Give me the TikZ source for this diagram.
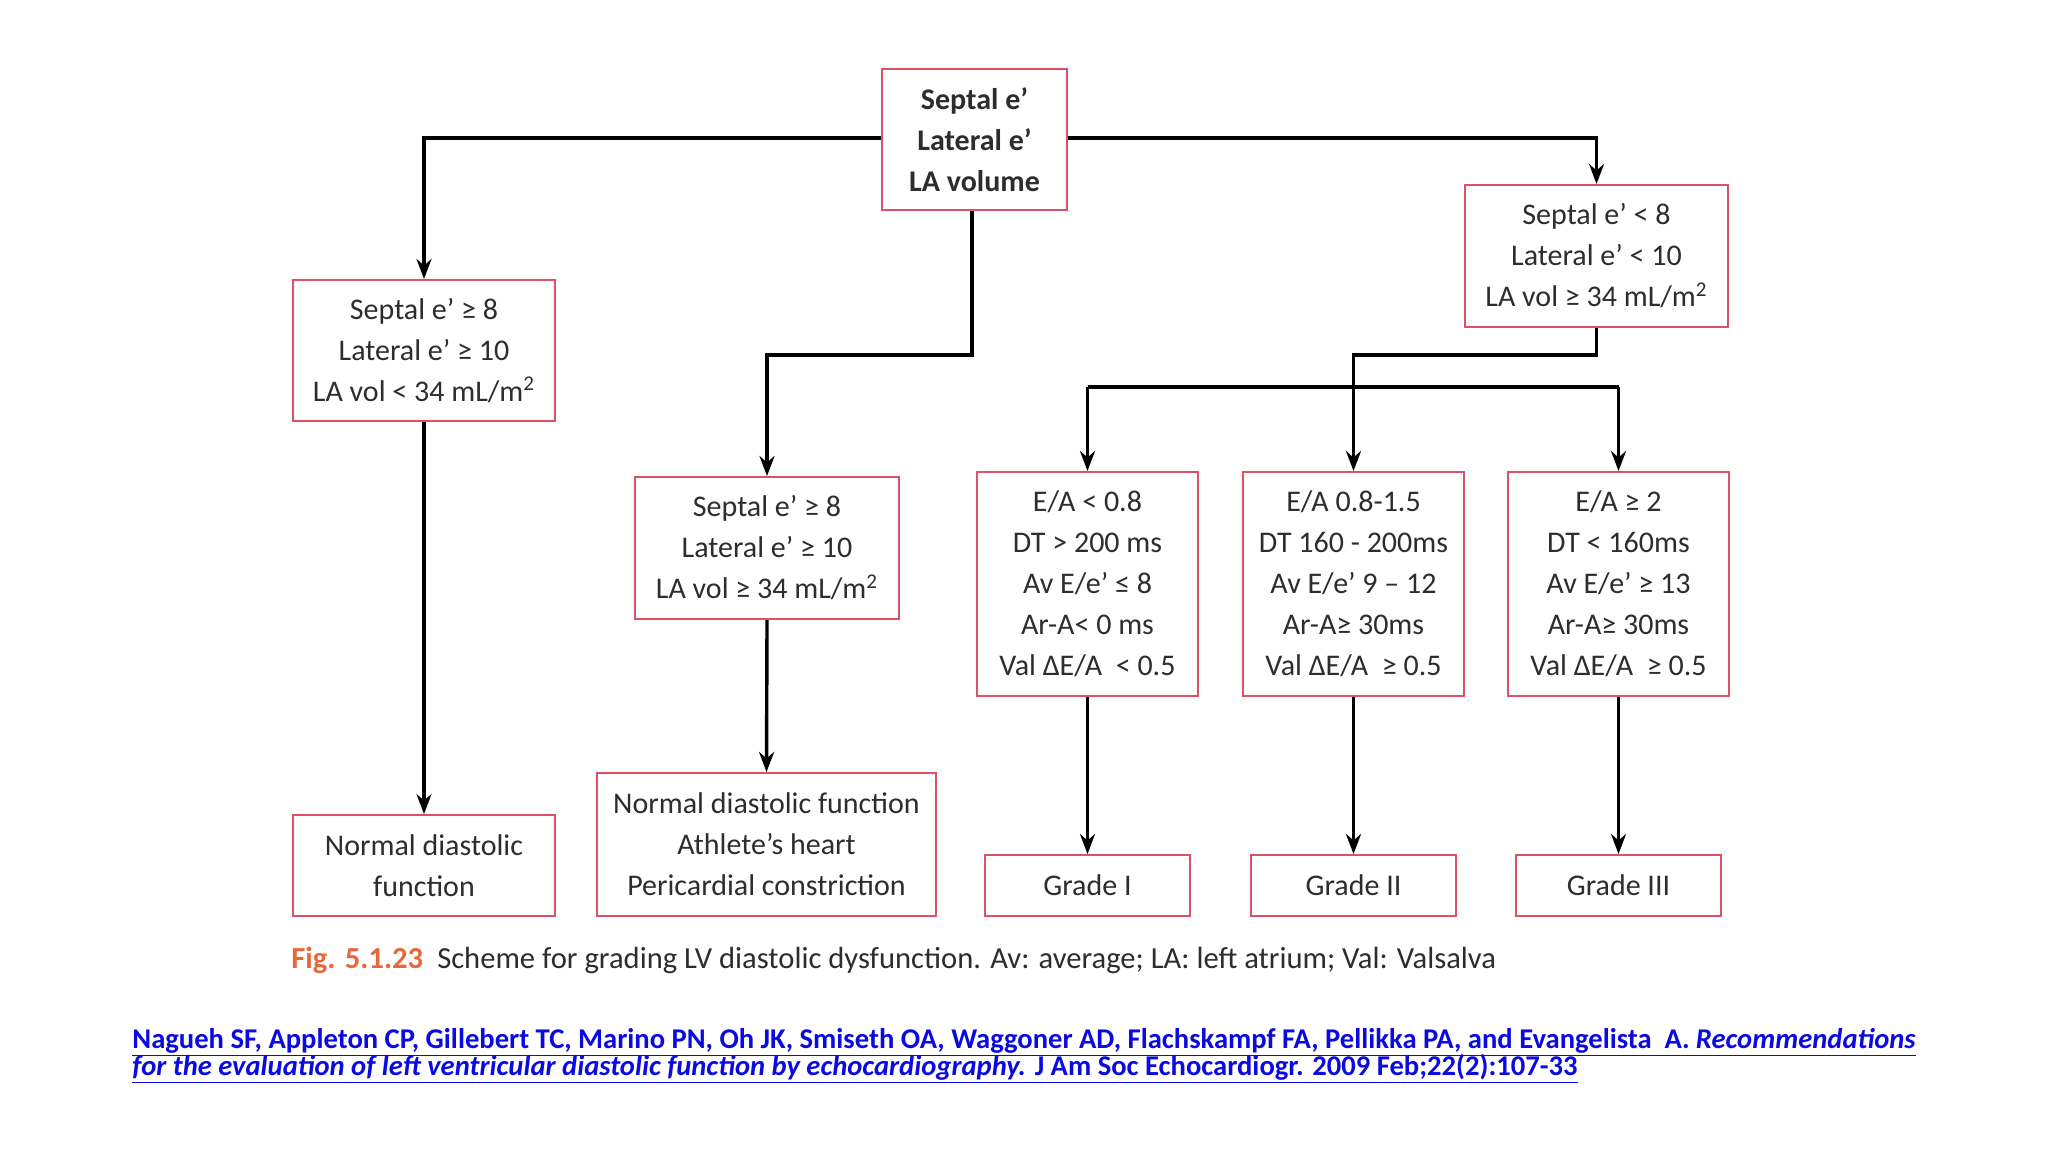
\documentclass[tikz,border=0pt]{standalone}
\usepackage{fontspec}
\setmainfont{Carlito}
\usetikzlibrary{arrows.meta}
\definecolor{boxred}{RGB}{222,80,100}
\definecolor{txt}{RGB}{45,45,45}
\definecolor{figor}{RGB}{230,105,60}
\definecolor{linkblue}{RGB}{10,10,225}
\begin{document}
\begin{tikzpicture}[x=0.5pt,y=-0.5pt,
  box/.style={draw=boxred, line width=1pt, fill=white, align=center, inner sep=0pt, text=txt, font=\fontsize{15}{20.5}\selectfont},
  arr/.style={line width=1.7pt, -{Stealth[length=10pt,width=7.5pt]}},
  ln/.style={line width=1.7pt}]
\useasboundingbox (0,0) rectangle (2048,1152);
\fill[white] (0,0) rectangle (2048,1152);

\node[box, minimum width=92.5pt, minimum height=70.5pt] (T) at (974.5,139.5) {\bfseries Septal e’\\ \bfseries Lateral e’\\ \bfseries LA volume};
\node[box, minimum width=131pt, minimum height=70.5pt] (A) at (424,350.5) {Septal e’ ≥ 8\\ Lateral e’ ≥ 10\\ LA vol < 34 mL/m\textsuperscript{2}};
\node[box, minimum width=131.5pt, minimum height=71pt] (B) at (1596.5,256) {Septal e’ < 8\\ Lateral e’ < 10\\ LA vol ≥ 34 mL/m\textsuperscript{2}};
\node[box, minimum width=132pt, minimum height=71pt] (C) at (767,548) {Septal e’ ≥ 8\\ Lateral e’ ≥ 10\\ LA vol ≥ 34 mL/m\textsuperscript{2}};
\node[box, minimum width=110.5pt, minimum height=112pt] (E1) at (1087.5,584) {E/A < 0.8\\ DT > 200 ms\\ Av E/e’ ≤ 8\\ Ar-A< 0 ms\\ Val ΔE/A \ < 0.5};
\node[box, minimum width=110.5pt, minimum height=112pt] (E2) at (1353.5,584) {E/A 0.8-1.5\\ DT 160 - 200ms\\ Av E/e’ 9 – 12\\ Ar-A≥ 30ms\\ Val ΔE/A \ ≥ 0.5};
\node[box, minimum width=110.5pt, minimum height=112pt] (E3) at (1618.5,584) {E/A ≥ 2\\ DT < 160ms\\ Av E/e’ ≥ 13\\ Ar-A≥ 30ms\\ Val ΔE/A \ ≥ 0.5};
\node[box, minimum width=131pt, minimum height=50.5pt] (N) at (424,865.5) {Normal diastolic\\ function};
\node[box, minimum width=169.5pt, minimum height=71.5pt] (NDF) at (766.5,844.5) {Normal diastolic function\\ Athlete’s heart\\ Pericardial constriction};
\node[box, minimum width=102.5pt, minimum height=30.5pt] (G1) at (1087.5,885.5) {Grade I};
\node[box, minimum width=102.5pt, minimum height=30.5pt] (G2) at (1353.5,885.5) {Grade II};
\node[box, minimum width=102.5pt, minimum height=30.5pt] (G3) at (1618.5,885.5) {Grade III};

\coordinate (jl) at (424,138);
\coordinate (jr) at (1596.5,138);
\coordinate (m1) at (972,355);
\coordinate (m2) at (767,355);
\coordinate (r1) at (1596.5,355);
\coordinate (r2) at (1353.5,355);
\coordinate (b1) at (1087.5,387);
\coordinate (b3) at (1618.5,387);

\draw[arr] (T.west |- jl) -- (jl) -- (A.north);
\draw[arr] (T.east |- jr) -- (jr) -- (B.north);
\draw[arr] (T.south -| m1) -- (m1) -- (m2) -- (C.north);
\draw[arr] (B.south) -- (r1) -- (r2) -- (E2.north);
\draw[ln] (b1) -- (b3);
\draw[arr] (b1) -- (E1.north);
\draw[arr] (b3) -- (E3.north);
\draw[arr] (A.south) -- (N.north);
\draw[arr] (C.south) -- (NDF.north);
\draw[arr] (E1.south) -- (G1.north);
\draw[arr] (E2.south) -- (G2.north);
\draw[arr] (E3.south) -- (G3.north);

\node[anchor=base west, inner sep=0pt, font=\fontsize{15.3}{17}\selectfont] (cap) at (291,968) {\textcolor{figor}{\bfseries Fig. 5.1.23}\hspace{7pt}\textcolor{txt}{Scheme for grading LV diastolic dysfunction. Av: average; LA: left atrium; Val: Valsalva}};

\node[anchor=base west, inner sep=0pt, text=linkblue, font=\fontsize{14.3}{13.5}\selectfont\bfseries] (cite1) at (132,1048) {\underline{Nagueh SF, Appleton CP, Gillebert TC, Marino PN, Oh JK, Smiseth OA, Waggoner AD, Flachskampf FA, Pellikka PA, and Evangelista\ \ A. \textit{Recommendations}}};
\node[anchor=base west, inner sep=0pt, text=linkblue, font=\fontsize{14.3}{13.5}\selectfont\bfseries] (cite2) at (132,1075) {\underline{\textit{for the evaluation of left ventricular diastolic function by echocardiography.} J Am Soc Echocardiogr. 2009 Feb;22(2):107-33}};
\end{tikzpicture}
\end{document}
